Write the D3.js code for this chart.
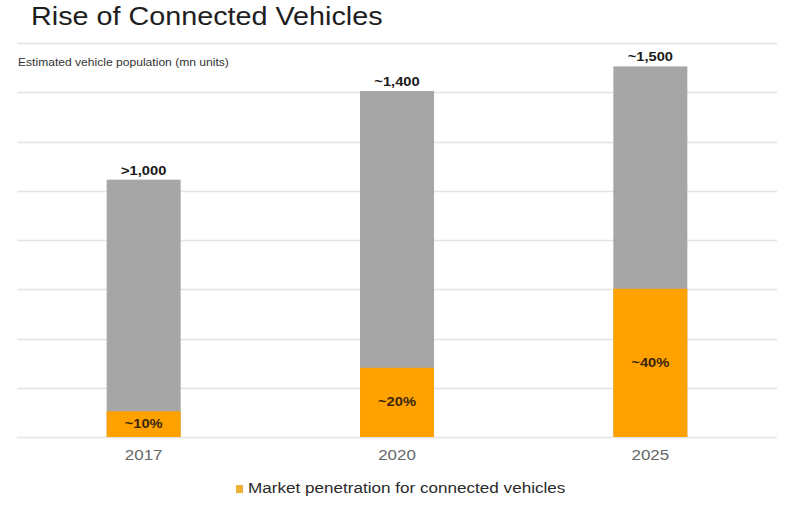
<!DOCTYPE html>
<html>
<head>
<meta charset="utf-8">
<script src="https://cdn.jsdelivr.net/npm/d3@7"></script>
<style>
  html, body { margin: 0; padding: 0; background: #fff; }
  svg { display: block; font-family: "Liberation Sans", Arial, sans-serif; }
</style>
</head>
<body>
<svg id="chart" width="800" height="506"></svg>
<script>
// ---- data ----
const years = ["2017", "2020", "2025"];
const totals = [1045, 1405, 1505];            // estimated vehicle population (mn units)
const totalLabels = [">1,000", "~1,400", "~1,500"];
const penetration = [0.10, 0.20, 0.40];       // share of connected vehicles
const penetrationLabels = ["~10%", "~20%", "~40%"];
const gridTicks = [0, 200, 400, 600, 800, 1000, 1200, 1400, 1600];

const title = "Rise of Connected Vehicles";
const subtitle = "Estimated vehicle population (mn units)";
const legendLabel = "Market penetration for connected vehicles";

// ---- layout ----
const svg = d3.select("#chart");
const plotLeft = 17, plotRight = 777, plotTop = 43, plotBottom = 437;
const grey = "#a6a6a6", orange = "#ffa200";
const SX = 1.13; // horizontal stretch of the source's lettering

const x = d3.scaleBand().domain(years).range([plotLeft, plotRight])
  .paddingInner(0.708).paddingOuter(0.354);
const y = d3.scaleLinear().domain([0, 1600]).range([plotBottom, plotTop]);

function place(sel, fx, fy, sx = SX) {
  return sel.attr("transform", (d, i) =>
    `translate(${typeof fx === "function" ? fx(d, i) : fx},${typeof fy === "function" ? fy(d, i) : fy}) scale(${sx},1)`);
}

// title
place(svg.append("text"), 31, 25, 1.15)
  .attr("font-size", 25).attr("fill", "#1e1e1e").text(title);

// gridlines
svg.append("g").selectAll("line").data(gridTicks).join("line")
  .attr("x1", plotLeft).attr("x2", plotRight)
  .attr("y1", d => Math.round(y(d)) + 0.5).attr("y2", d => Math.round(y(d)) + 0.5)
  .attr("stroke", "#e4e4e4").attr("stroke-width", 1.5);

// subtitle
place(svg.append("text"), 18, 66, 1.1)
  .attr("font-size", 11).attr("fill", "#333").text(subtitle);

const data = years.map((yr, i) => ({
  yr, total: totals[i], conn: totals[i] * penetration[i],
  tl: totalLabels[i], pl: penetrationLabels[i]
}));

// grey (total) bars
svg.append("g").selectAll("rect").data(data).join("rect")
  .attr("x", d => x(d.yr)).attr("width", x.bandwidth())
  .attr("y", d => y(d.total)).attr("height", d => y(0) - y(d.total))
  .attr("fill", grey);

// orange (connected) segments
svg.append("g").selectAll("rect").data(data).join("rect")
  .attr("x", d => x(d.yr)).attr("width", x.bandwidth())
  .attr("y", d => y(d.conn)).attr("height", d => y(0) - y(d.conn))
  .attr("fill", orange);

// total labels
place(svg.append("g").selectAll("text").data(data).join("text"),
      d => x(d.yr) + x.bandwidth() / 2, d => y(d.total) - 5)
  .attr("text-anchor", "middle").attr("font-size", 13).attr("font-weight", "bold")
  .attr("fill", "#1a1a1a").text(d => d.tl);

// penetration labels
place(svg.append("g").selectAll("text").data(data).join("text"),
      d => x(d.yr) + x.bandwidth() / 2, d => (y(d.conn) + y(0)) / 2 + 4)
  .attr("text-anchor", "middle").attr("font-size", 13).attr("font-weight", "bold")
  .attr("fill", "#3a2608").text(d => d.pl);

// x axis labels
const xAxis = d3.axisBottom(x).tickSize(0).tickPadding(12);
const gx = svg.append("g").attr("transform", `translate(0,${plotBottom})`).call(xAxis);
gx.select(".domain").remove();
gx.selectAll("text").attr("font-size", 15).attr("fill", "#666")
  .attr("font-family", "Liberation Sans, Arial, sans-serif")
  .attr("transform", `scale(${SX},1)`)
  .attr("x", function() { return 0; });
gx.selectAll(".tick text").each(function() { d3.select(this).attr("dy", "0.71em"); });

// legend
svg.append("rect").attr("x", 236).attr("y", 485).attr("width", 7).attr("height", 8)
  .attr("fill", "#eeb136");
place(svg.append("text"), 248, 493, 1.14)
  .attr("font-size", 15).attr("fill", "#2a2a2a").text(legendLabel);
</script>
</body>
</html>
